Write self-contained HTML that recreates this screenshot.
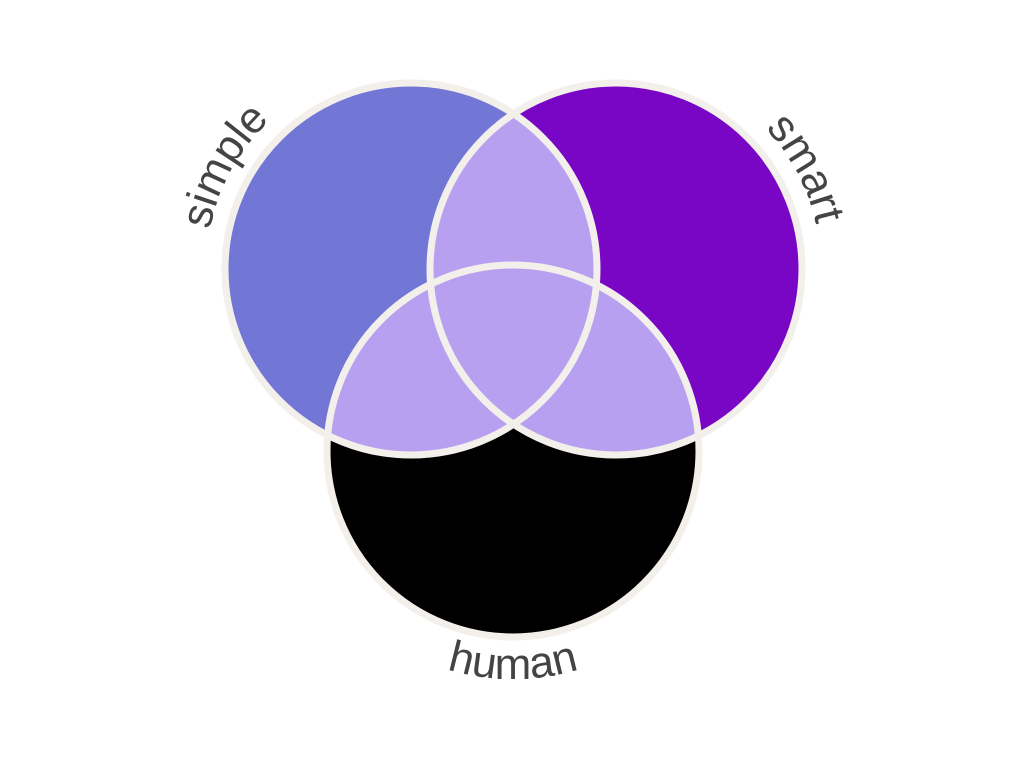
<!DOCTYPE html>
<html><head><meta charset="utf-8"><style>
html,body{margin:0;padding:0;background:#fff;}
svg{display:block;}
text{font-family:"Liberation Sans",sans-serif;font-size:44px;fill:#444;}
</style></head><body>
<svg width="1024" height="768" viewBox="0 0 1024 768">
<defs>
<clipPath id="cA"><circle cx="411" cy="269" r="186"/></clipPath>
<clipPath id="cB"><circle cx="616" cy="269" r="186"/></clipPath>
<clipPath id="cC"><circle cx="513" cy="451" r="186"/></clipPath>
<path id="pA" d="M206,269 A205,205 0 0 1 616,269"/>
<path id="pB" d="M411,269 A205,205 0 0 1 821,269"/>
<path id="pC" d="M285,451 A228,228 0 0 0 741,451"/>
</defs>
<circle cx="411" cy="269" r="186" fill="#7276d4"/>
<circle cx="616" cy="269" r="186" fill="#7806c4"/>
<circle cx="513" cy="451" r="186" fill="#000"/>
<g clip-path="url(#cA)"><circle cx="616" cy="269" r="186" fill="#b8a0f0"/></g>
<g clip-path="url(#cA)"><circle cx="513" cy="451" r="186" fill="#b8a0f0"/></g>
<g clip-path="url(#cB)"><circle cx="513" cy="451" r="186" fill="#b8a0f0"/></g>
<g fill="none" stroke="#f3efeb" stroke-width="7">
<circle cx="411" cy="269" r="186"/>
<circle cx="616" cy="269" r="186"/>
<circle cx="513" cy="451" r="186"/>
</g>
<text><textPath href="#pA" startOffset="16%" text-anchor="middle">simple</textPath></text>
<text><textPath href="#pB" startOffset="84.5%" text-anchor="middle">smart</textPath></text>
<text><textPath href="#pC" startOffset="50%" text-anchor="middle">human</textPath></text>
</svg>
</body></html>
